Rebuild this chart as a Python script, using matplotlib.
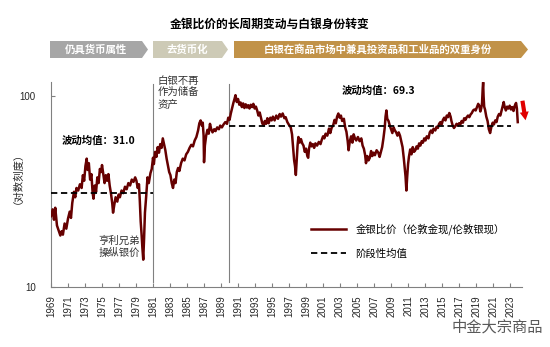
import numpy as np
import matplotlib.pyplot as plt
from matplotlib.patches import Polygon

plt.rcParams['font.family'] = ['Noto Sans CJK SC', 'DejaVu Sans']

# gold/silver ratio (year, ratio)
years = [
    1969.0, 1969.2, 1969.35, 1969.5, 1969.7, 1969.9, 1970.1, 1970.25, 1970.4, 1970.6,
    1970.8, 1971.0, 1971.2, 1971.35, 1971.5, 1971.7, 1971.85, 1972.0, 1972.2, 1972.4,
    1972.6, 1972.75, 1972.9, 1973.05, 1973.2, 1973.3, 1973.45, 1973.6, 1973.75, 1973.9,
    1974.0, 1974.15, 1974.3, 1974.45, 1974.6, 1974.75, 1974.9, 1975.0, 1975.15, 1975.3,
    1975.45, 1975.6, 1975.75, 1975.9, 1976.05, 1976.2, 1976.3, 1976.45, 1976.6, 1976.8,
    1976.95, 1977.1, 1977.3, 1977.5, 1977.7, 1977.9, 1978.1, 1978.3, 1978.5, 1978.7,
    1978.9, 1979.05, 1979.2, 1979.35, 1979.45, 1979.55, 1979.65, 1979.75, 1979.85, 1979.95,
    1980.05, 1980.2, 1980.35, 1980.5, 1980.7, 1980.85, 1981.0, 1981.1, 1981.25, 1981.4,
    1981.55, 1981.7, 1981.85, 1982.0, 1982.15, 1982.3, 1982.45, 1982.6, 1982.75, 1982.9,
    1983.05, 1983.2, 1983.35, 1983.5, 1983.65, 1983.8, 1983.95, 1984.1, 1984.3, 1984.5,
    1984.7, 1984.9, 1985.1, 1985.3, 1985.5, 1985.7, 1985.9, 1986.1, 1986.3, 1986.45,
    1986.6, 1986.75, 1986.85, 1986.95, 1987.0, 1987.1, 1987.25, 1987.4, 1987.55, 1987.7,
    1987.85, 1988.0, 1988.2, 1988.35, 1988.55, 1988.75, 1988.9, 1989.1, 1989.3, 1989.5,
    1989.7, 1989.85, 1990.0, 1990.15, 1990.3, 1990.45, 1990.6, 1990.7, 1990.85, 1991.0,
    1991.15, 1991.3, 1991.45, 1991.6, 1991.75, 1991.9, 1992.05, 1992.2, 1992.35, 1992.5,
    1992.65, 1992.8, 1992.95, 1993.1, 1993.25, 1993.4, 1993.55, 1993.7, 1993.85, 1994.0,
    1994.15, 1994.3, 1994.45, 1994.6, 1994.8, 1994.95, 1995.1, 1995.3, 1995.5, 1995.7,
    1995.9, 1996.05, 1996.25, 1996.45, 1996.6, 1996.8, 1997.0, 1997.2, 1997.35, 1997.5,
    1997.6, 1997.7, 1997.8, 1997.9, 1998.0, 1998.1, 1998.25, 1998.4, 1998.55, 1998.7,
    1998.85, 1999.0, 1999.15, 1999.25, 1999.35, 1999.5, 1999.65, 1999.8, 1999.95, 2000.1,
    2000.3, 2000.5, 2000.7, 2000.85, 2001.0, 2001.15, 2001.3, 2001.5, 2001.7, 2001.85,
    2002.0, 2002.2, 2002.35, 2002.5, 2002.65, 2002.8, 2002.95, 2003.1, 2003.25, 2003.45,
    2003.6, 2003.75, 2003.9, 2004.0, 2004.15, 2004.3, 2004.45, 2004.6, 2004.75, 2004.9,
    2005.1, 2005.3, 2005.5, 2005.65, 2005.8, 2005.95, 2006.05, 2006.2, 2006.35, 2006.5,
    2006.65, 2006.8, 2006.95, 2007.1, 2007.3, 2007.5, 2007.65, 2007.8, 2007.95, 2008.1,
    2008.25, 2008.35, 2008.45, 2008.55, 2008.7, 2008.85, 2009.0, 2009.15, 2009.3, 2009.45,
    2009.6, 2009.75, 2009.9, 2010.05, 2010.2, 2010.35, 2010.5, 2010.6, 2010.7, 2010.8,
    2010.9, 2011.0, 2011.1, 2011.25, 2011.4, 2011.55, 2011.7, 2011.85, 2012.0, 2012.15,
    2012.3, 2012.45, 2012.6, 2012.75, 2012.9, 2013.05, 2013.2, 2013.4, 2013.55, 2013.7,
    2013.85, 2014.0, 2014.2, 2014.35, 2014.5, 2014.65, 2014.8, 2014.95, 2015.1, 2015.25,
    2015.4, 2015.55, 2015.7, 2015.85, 2016.0, 2016.1, 2016.25, 2016.4, 2016.55, 2016.7,
    2016.85, 2017.0, 2017.15, 2017.3, 2017.45, 2017.6, 2017.75, 2017.9, 2018.05, 2018.2,
    2018.35, 2018.5, 2018.65, 2018.8, 2018.95, 2019.1, 2019.25, 2019.4, 2019.5, 2019.6,
    2019.7, 2019.78, 2019.83, 2019.88, 2019.95, 2020.05, 2020.2, 2020.35, 2020.5, 2020.65,
    2020.8, 2020.95, 2021.1, 2021.25, 2021.4, 2021.55, 2021.7, 2021.85, 2022.0, 2022.15,
    2022.25, 2022.35, 2022.5, 2022.65, 2022.8, 2022.95, 2023.1, 2023.25, 2023.4, 2023.55,
    2023.7, 2023.8, 2023.9,
]
ratio = [
    23.5, 25.5, 22.5, 26.0, 21.0, 19.8, 18.6, 19.6, 18.8, 21.5,
    20.2, 22.8, 24.8, 23.0, 27.5, 31.5, 29.5, 33.0, 32.0, 34.5,
    33.0, 38.5, 36.0, 43.0, 47.0, 41.0, 44.5, 36.5, 39.0, 31.0,
    29.0, 34.0, 31.5, 37.5, 35.0, 41.5, 40.0, 43.5, 39.0, 35.0,
    38.5, 36.0, 39.0, 34.0, 31.0, 27.5, 24.5, 27.0, 29.5, 28.0,
    30.5, 29.5, 32.0, 31.0, 33.5, 32.5, 35.0, 34.0, 36.5, 35.5,
    37.5, 36.0, 33.0, 34.5, 28.0, 22.0, 19.0, 16.0, 13.9, 18.0,
    24.5, 30.0, 37.5, 35.0, 39.5, 41.5, 47.5, 44.0, 51.0, 48.0,
    54.0, 50.5, 56.0, 53.5, 60.0, 56.0, 52.0, 47.0, 43.5, 40.0,
    38.5, 35.0, 33.0, 36.5, 35.0, 40.0, 42.0, 40.5, 44.5, 47.0,
    46.0, 49.5, 51.0, 53.5, 55.5, 54.5, 58.5, 61.0, 66.0, 72.0,
    74.5, 70.0, 72.5, 62.0, 45.0, 55.0, 62.0, 66.5, 63.5, 71.5,
    67.0, 64.5, 67.0, 65.5, 68.5, 67.0, 70.0, 68.5, 71.0, 73.0,
    71.5, 77.0, 75.0, 81.0, 86.5, 92.0, 97.0, 101.0, 93.0, 96.5,
    90.0, 92.5, 87.5, 91.5, 86.5, 90.5, 87.0, 89.5, 86.0, 90.0,
    87.5, 91.0, 86.0, 88.0, 84.0, 79.0, 82.0, 77.0, 72.0, 70.0,
    74.0, 71.5, 76.5, 72.0, 77.0, 74.5, 78.0, 74.5, 79.0, 76.0,
    80.5, 78.0, 81.0, 76.5, 77.5, 73.0, 70.5, 68.5, 63.0, 52.0,
    46.0, 43.0, 38.6, 46.0, 55.0, 61.0, 57.0, 59.5, 56.5, 55.0,
    51.0, 53.0, 48.5, 47.5, 53.0, 57.0, 54.5, 56.0, 53.5, 56.5,
    55.0, 57.5, 56.0, 59.0, 61.5, 60.0, 63.5, 62.0, 67.5, 64.0,
    68.0, 70.5, 75.0, 72.0, 78.0, 81.0, 77.0, 79.0, 74.0, 76.0,
    68.5, 65.0, 58.0, 52.0, 58.0, 61.5, 57.0, 63.0, 60.0, 58.5,
    61.0, 58.0, 60.0, 55.0, 53.0, 49.0, 44.5, 48.5, 46.0, 47.5,
    51.5, 48.5, 50.5, 49.0, 52.0, 50.5, 48.0, 51.0, 54.0, 60.0,
    68.0, 78.0, 84.0, 76.0, 74.0, 70.0, 67.0, 64.0, 68.5, 66.0,
    64.5, 62.0, 64.5, 62.0, 58.0, 54.0, 47.0, 42.0, 38.0, 32.0,
    38.0, 44.0, 48.0, 52.5, 49.5, 54.0, 51.0, 52.0, 54.5, 53.0,
    56.5, 55.0, 58.0, 57.0, 60.0, 58.5, 61.5, 60.0, 64.5, 66.0,
    64.0, 67.5, 66.0, 69.0, 68.0, 71.5, 73.0, 71.0, 75.0, 77.0,
    74.5, 79.0, 77.5, 81.5, 78.0, 74.0, 70.0, 68.0, 69.5, 71.5,
    70.0, 72.0, 71.0, 74.0, 72.5, 76.5, 75.0, 77.5, 79.0, 77.5,
    80.0, 81.5, 84.0, 85.0, 84.0, 87.5, 91.0, 88.0, 83.0, 86.0,
    92.0, 110.0, 118.0, 100.0, 88.0, 85.0, 78.0, 74.0, 67.0, 64.0,
    69.0, 72.5, 71.0, 74.5, 73.0, 78.0, 80.5, 79.0, 84.0, 89.5,
    93.0, 88.0, 84.0, 88.0, 86.0, 89.0, 85.0, 87.5, 83.5, 89.0,
    92.0, 86.0, 73.0,
]

# stage averages
mean_start = [1969.0, 1989.9]
mean_end = [1981.0, 2023.1]
mean_val = [31.0, 69.3]
stage_breaks = [1981.0, 1989.9]

banner_labels = ['仍具货币属性', '去货币化', '白银在商品市场中兼具投资品和工业品的双重身份']
banner_colors = ['#A6A6A6', '#CDCAB6', '#C19248']

W, H = 550, 347
fig = plt.figure(figsize=(W / 100, H / 100), dpi=100)
ax = fig.add_axes([51 / W, 1 - 287 / H, 471 / W, 205 / H])

line_color = '#660000'
ax.plot(years, ratio, color=line_color, lw=1.8, label='金银比价（伦敦金现/伦敦银现）', zorder=3)
for i in range(len(mean_val)):
    ax.plot([mean_start[i], mean_end[i]], [mean_val[i], mean_val[i]], color='black',
            lw=1.3, ls=(0, (3.5, 2)), zorder=4, label='阶段性均值' if i == 0 else None)
for b in stage_breaks:
    ax.axvline(b, ymin=0.025, ymax=0.99, color='#808080', lw=0.8, zorder=2)

ax.set_yscale('log')
ax.set_ylim(10, 118.4)
ax.set_xlim(1969, 2024.4)

ax.set_yticks([10, 100])
ax.set_yticklabels(['10', '100'])
ax.yaxis.set_minor_locator(plt.NullLocator())
ax.tick_params(axis='y', direction='in', length=3, pad=11, labelsize=7, colors='#808080', labelcolor='#262626')
xt = list(range(1969, 2024, 2))
ax.set_xticks(xt)
ax.set_xticklabels([str(y) for y in xt], rotation=90, family=['Liberation Sans'])
ax.tick_params(axis='x', direction='in', length=3, pad=6, labelsize=7, colors='#808080', labelcolor='#262626')
for lab in ax.get_yticklabels():
    lab.set_family(['Liberation Sans'])

for s in ['top', 'right']:
    ax.spines[s].set_visible(False)
for s in ['left', 'bottom']:
    ax.spines[s].set_color('#808080')
    ax.spines[s].set_linewidth(0.8)

# annotations
ax.text(1970.3, 58.7, '波动均值：31.0', fontsize=7.5, weight='bold', va='center', ha='left')
ax.text(2003.2, 107, '波动均值：69.3', fontsize=7.5, weight='bold', va='center', ha='left')
ax.text(1981.5, 127, '白银不再\n作为储备\n资产', fontsize=7.5, color='#333333', va='top', ha='left',
        linespacing=1.15, clip_on=False)
ax.text(1979.5, 16.3, '亨利兄弟\n操纵银价', fontsize=7.5, color='#333333', va='center', ha='right',
        linespacing=1.2)

leg = ax.legend(loc='upper left', bbox_to_anchor=(0.553, 0.31), frameon=False, fontsize=7.5,
                handlelength=3.3, handletextpad=0.9, labelspacing=1.3, borderpad=0, borderaxespad=0)

# red down arrow at the end
ax.annotate('', xy=(526 / W, 1 - 123 / H), xytext=(522 / W, 1 - 98 / H),
            xycoords='figure fraction', textcoords='figure fraction',
            arrowprops=dict(arrowstyle='simple,head_width=0.65,head_length=0.6,tail_width=0.3',
                            color='#E00000', lw=0))

# title
fig.text(270 / W, 1 - 24 / H, '金银比价的长周期变动与白银身份转变', fontsize=8.5, weight='bold',
         ha='center', va='center')

# stage banners (pixel boxes: left, right, tip)
banner_x = [(50, 142, 148), (153, 222, 228), (234, 521, 528)]
y0, y1 = 41, 58
for (xl, xr, xtip), lab, c in zip(banner_x, banner_labels, banner_colors):
    pts = [(xl, y0), (xr, y0), (xtip, (y0 + y1) / 2), (xr, y1), (xl, y1)]
    pts = [(px / W, 1 - py / H) for px, py in pts]
    fig.patches.append(Polygon(pts, closed=True, transform=fig.transFigure, facecolor=c,
                               edgecolor='none'))
    fig.text((xl + xr) / 2 / W, 1 - (y0 + y1) / 2 / H, lab, fontsize=7.5, weight='bold',
             color='white', ha='center', va='center')

fig.text(13 / W, 1 - 173 / H, '（对数刻度）', rotation=90, fontsize=7.5, ha='center', va='center',
         color='#262626')
fig.text(497 / W, 1 - 327 / H, '中金大宗商品', fontsize=11, color='#595959', ha='center', va='center')

fig.savefig('out.png', dpi=100)
